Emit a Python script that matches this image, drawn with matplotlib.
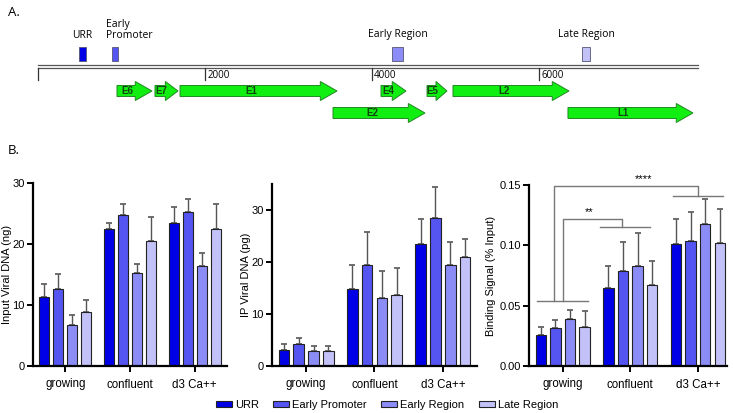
import numpy as np
import matplotlib
matplotlib.use('Agg')
import matplotlib.pyplot as plt
from matplotlib.patches import FancyArrow, Rectangle, Patch

plt.rcParams['font.family'] = ['Liberation Sans', 'DejaVu Sans']

# ---- panel A: genome map (positions in bp) ----
genome_len = 7900
genome_ticks = [2000, 4000, 6000]
gene_names = ['E6', 'E7', 'E1', 'E4', 'E5', 'L2', 'E2', 'L1']
gene_start = [946, 1401, 1701, 4108, 4659, 4970, 3533, 6347]
gene_end = [1365, 1677, 3581, 4407, 4898, 6359, 4635, 7844]
gene_row = [0, 0, 0, 0, 0, 0, 1, 1]

region_names = ['URR', 'Early\nPromoter', 'Early Region', 'Late Region']
region_start = [491, 886, 4240, 6515]
region_end = [575, 958, 4371, 6611]

# ---- panel B: bar data ----
groups = ['growing', 'confluent', 'd3 Ca++']
series = ['URR', 'Early Promoter', 'Early Region', 'Late Region']
colors = ['#0000e6', '#5555f2', '#8c8cf7', '#c2c2f9']

input_mean = [[11.3, 22.5, 23.5], [12.7, 24.7, 25.2], [6.8, 15.2, 16.4], [8.9, 20.5, 22.5]]
input_sd = [[2.2, 1.0, 2.6], [2.4, 1.8, 2.1], [1.5, 1.5, 2.1], [2.0, 3.9, 4.1]]

ip_mean = [[3.1, 14.8, 23.5], [4.3, 19.4, 28.5], [2.8, 13.1, 19.5], [2.8, 13.6, 21.0]]
ip_sd = [[1.1, 4.6, 4.8], [1.1, 6.3, 6.0], [1.0, 5.2, 4.4], [1.1, 5.3, 3.5]]

bind_mean = [[0.026, 0.065, 0.101], [0.0315, 0.079, 0.104], [0.0387, 0.083, 0.118], [0.0326, 0.067, 0.102]]
bind_sd = [[0.006, 0.018, 0.021], [0.0065, 0.0235, 0.0235], [0.0073, 0.0275, 0.0205], [0.0127, 0.020, 0.0285]]

W, H = 733, 413
fig = plt.figure(figsize=(W / 100, H / 100), dpi=100)

# panel A axes, x in bp, y in pixels from the top
px_per_bp = 0.0835
x0_px = 38
axA = fig.add_axes([0, (H - 135) / H, 1, 135 / H])
axA.set_xlim(-x0_px / px_per_bp, (W - x0_px) / px_per_bp)
axA.set_ylim(135, 0)
axA.axis('off')

fig.text(8 / W, 1 - 12 / H, 'A.', fontsize=9.5, family='Open Sans', va='center')
fig.text(8 / W, 1 - 151 / H, 'B.', fontsize=9.5, family='Open Sans', va='center')

axA.plot([0, genome_len], [65, 65], color='#555555', lw=0.9)
axA.plot([0, genome_len], [68, 68], color='#555555', lw=0.9)
for t in [0] + genome_ticks:
    axA.plot([t, t], [68, 80], color='#333333', lw=0.9)
for t in genome_ticks:
    axA.text(t + 25, 75, str(t), fontsize=7, family='Open Sans', va='center', ha='left')

for i, name in enumerate(region_names):
    axA.add_patch(Rectangle((region_start[i], 47), region_end[i] - region_start[i], 14,
                            facecolor=colors[i], edgecolor='#555577', lw=0.6))
    cx = (region_start[i] + region_end[i]) / 2
    if '\n' in name:
        axA.text(region_start[i] - 70, 30, name, fontsize=7.5, family='Open Sans',
                 ha='left', va='center', linespacing=0.95)
    else:
        axA.text(cx, 35, name, fontsize=7.5, family='Open Sans', ha='center', va='center')

row_y = [91, 113]
for name, s, e, r in zip(gene_names, gene_start, gene_end, gene_row):
    length = e - s
    hl = min(200, 0.55 * length)
    axA.add_patch(FancyArrow(s, row_y[r], length, 0, width=11, head_width=19,
                             head_length=hl, length_includes_head=True,
                             facecolor='#11ee11', edgecolor='#228822', lw=0.7))
    axA.text(s + (length - hl) / 2 + 15, row_y[r], name, fontsize=7, fontweight='bold',
             color='#114411', ha='center', va='center')


# ---- panel B bar charts ----
def bar_panel(rect, means, sds, ylim, yticks, yticklabels, ylabel, label_x, xmax=2.5):
    ax = fig.add_axes(rect)
    x = np.arange(len(groups))
    step = 0.216
    for i in range(len(series)):
        xi = x + (i - 1.5) * step
        ax.bar(xi, means[i], width=0.155, color=colors[i], edgecolor='#222222', lw=0.8, zorder=2)
        ax.errorbar(xi, means[i], yerr=[np.zeros(len(groups)), sds[i]], fmt='none',
                    ecolor='#555555', elinewidth=1.0, capsize=2.2, capthick=1.2, zorder=1)
    ax.set_xlim(-0.5, xmax)
    ax.set_ylim(*ylim)
    ax.set_yticks(yticks)
    ax.set_yticklabels(yticklabels)
    ax.set_xticks(x)
    ax.set_xticklabels(groups)
    ax.set_ylabel(ylabel, fontsize=8)
    ax.yaxis.set_label_coords(label_x, 0.5)
    for s in ['top', 'right']:
        ax.spines[s].set_visible(False)
    for s in ['left', 'bottom']:
        ax.spines[s].set_linewidth(1.6)
    ax.tick_params(axis='both', labelsize=8, width=1.4, length=4, pad=2)
    ax.tick_params(axis='x', pad=5, labelsize=8.3)
    return ax


ax1 = bar_panel([33 / W, (H - 366) / H, 194 / W, 183 / H], input_mean, input_sd,
                (0, 30), [0, 10, 20, 30], ['0', '10', '20', '30'], 'Input Viral DNA (ng)', -0.108)
ax2 = bar_panel([272 / W, (H - 366) / H, 205 / W, 182 / H], ip_mean, ip_sd,
                (0, 35), [0, 10, 20, 30], ['0', '10', '20', '30'], 'IP Viral DNA (pg)', -0.102)
ax3 = bar_panel([529 / W, (H - 366) / H, 198 / W, 181 / H], bind_mean, bind_sd,
                (0, 0.15), [0, 0.05, 0.10, 0.15], ['0.00', '0.05', '0.10', '0.15'],
                'Binding Signal (% Input)', -0.167, xmax=2.43)

# significance brackets
bc = '#777777'
half = 0.375
grow_y, conf_y, d3_y = 0.054, 0.115, 0.141
ax3.plot([0 - half, 0 + half], [grow_y, grow_y], color=bc, lw=1.0, clip_on=False)
ax3.plot([0.92 - half, 0.92 + half], [conf_y, conf_y], color=bc, lw=1.0, clip_on=False)
ax3.plot([2 - half, 2 + half], [d3_y, d3_y], color=bc, lw=1.0, clip_on=False)
ax3.plot([0.0, 0.0, 0.88, 0.88], [grow_y, 0.122, 0.122, conf_y], color=bc, lw=1.0)
ax3.plot([-0.13, -0.13, 2.0, 2.0], [grow_y, 0.149, 0.149, d3_y], color=bc, lw=1.0, clip_on=False)
ax3.text(0.39, 0.1235, '**', ha='center', va='bottom', fontsize=8)
ax3.text(1.2, 0.1505, '****', ha='center', va='bottom', fontsize=8, clip_on=False)

handles = [Patch(facecolor=c, edgecolor='#222222', lw=0.8) for c in colors]
fig.legend(handles, series, loc='center', bbox_to_anchor=(387 / W, 1 - 405 / H), ncol=4,
           frameon=False, fontsize=8, handlelength=1.45, handleheight=0.45,
           handletextpad=0.25, columnspacing=1.3)

fig.savefig('out.png', dpi=100)
